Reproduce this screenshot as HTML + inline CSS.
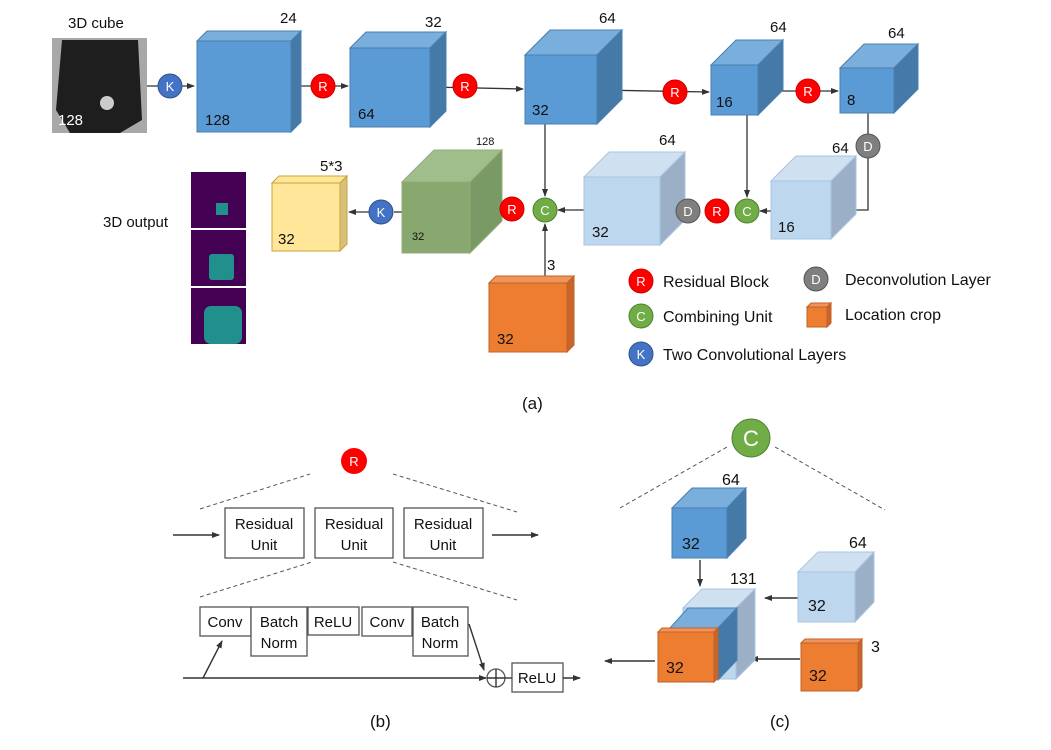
<!DOCTYPE html>
<html><head><meta charset="utf-8"><style>
html,body{margin:0;padding:0;background:#fff}
svg{display:block}
text{font-family:"Liberation Sans",sans-serif}
</style></head><body>
<svg width="1051" height="750" viewBox="0 0 1051 750" xmlns="http://www.w3.org/2000/svg">
<defs>
<marker id="a" markerWidth="8" markerHeight="8" refX="7" refY="4" orient="auto" markerUnits="userSpaceOnUse"><path d="M0,1 L8,4 L0,7 z" fill="#333"/></marker>
</defs>
<g font-size="15" fill="#111">
<!-- (a) top row -->
<text x="68" y="28">3D cube</text>
<rect x="52" y="38" width="95" height="95" fill="#a8a8a8"/>
<path d="M62,40 L138,40 L142,120 L120,133 L70,133 L56,110 Z" fill="#1e1e1e"/>
<circle cx="107" cy="103" r="7" fill="#ccc"/>
<text x="58" y="125" fill="#fff" font-size="15">128</text>

<g stroke="#333" stroke-width="1.3" fill="none">
<line x1="147" y1="86" x2="194" y2="86" marker-end="url(#a)"/>
<line x1="291" y1="86" x2="348" y2="86" marker-end="url(#a)"/>
<line x1="430" y1="87" x2="523" y2="89" marker-end="url(#a)"/>
<line x1="597" y1="90" x2="709" y2="92" marker-end="url(#a)"/>
<line x1="758" y1="91" x2="838" y2="91" marker-end="url(#a)"/>
<line x1="545" y1="124" x2="545" y2="196" marker-end="url(#a)"/>
<line x1="747" y1="115" x2="747" y2="197" marker-end="url(#a)"/>
<line x1="868" y1="113" x2="868" y2="134"/>
<polyline points="868,158 868,210 834,210" marker-end="url(#a)"/>
<line x1="771" y1="211" x2="760" y2="211" marker-end="url(#a)"/>
<line x1="676" y1="211" x2="662" y2="211" marker-end="url(#a)"/>
<line x1="584" y1="210" x2="558" y2="210" marker-end="url(#a)"/>
<line x1="545" y1="283" x2="545" y2="224" marker-end="url(#a)"/>
<line x1="500" y1="210" x2="472" y2="210" marker-end="url(#a)"/>
<line x1="402" y1="212" x2="394" y2="212"/>
<line x1="369" y1="212" x2="349" y2="212" marker-end="url(#a)"/>
</g>

<g stroke-width="1">
<polygon points="197,41 207,31 301,31 291,41" fill="#7aaedc" stroke="#4a7fb0"/>
<polygon points="291,41 301,31 301,122 291,132" fill="#4479a8" stroke="#4a7fb0"/>
<rect x="197" y="41" width="94" height="91" fill="#5b9bd5" stroke="#4a7fb0"/>
<polygon points="350,48 366,32 446,32 430,48" fill="#7aaedc" stroke="#4a7fb0"/>
<polygon points="430,48 446,32 446,111 430,127" fill="#4479a8" stroke="#4a7fb0"/>
<rect x="350" y="48" width="80" height="79" fill="#5b9bd5" stroke="#4a7fb0"/>
<polygon points="525,55 550,30 622,30 597,55" fill="#7aaedc" stroke="#4a7fb0"/>
<polygon points="597,55 622,30 622,99 597,124" fill="#4479a8" stroke="#4a7fb0"/>
<rect x="525" y="55" width="72" height="69" fill="#5b9bd5" stroke="#4a7fb0"/>
<polygon points="711,65 736,40 783,40 758,65" fill="#7aaedc" stroke="#4a7fb0"/>
<polygon points="758,65 783,40 783,90 758,115" fill="#4479a8" stroke="#4a7fb0"/>
<rect x="711" y="65" width="47" height="50" fill="#5b9bd5" stroke="#4a7fb0"/>
<polygon points="840,68 864,44 918,44 894,68" fill="#7aaedc" stroke="#4a7fb0"/>
<polygon points="894,68 918,44 918,89 894,113" fill="#4479a8" stroke="#4a7fb0"/>
<rect x="840" y="68" width="54" height="45" fill="#5b9bd5" stroke="#4a7fb0"/>
<polygon points="771,181 796,156 856,156 831,181" fill="#cfe0f1" stroke="#a9c4e0"/>
<polygon points="831,181 856,156 856,214 831,239" fill="#9bb0c6" stroke="#a9c4e0"/>
<rect x="771" y="181" width="60" height="58" fill="#bdd7ee" stroke="#a9c4e0"/>
<polygon points="584,177 609,152 685,152 660,177" fill="#cfe0f1" stroke="#a9c4e0"/>
<polygon points="660,177 685,152 685,220 660,245" fill="#9bb0c6" stroke="#a9c4e0"/>
<rect x="584" y="177" width="76" height="68" fill="#bdd7ee" stroke="#a9c4e0"/>
<polygon points="402,182 434,150 502,150 470,182" fill="#a0bd8c" stroke="#8fae78"/>
<polygon points="470,182 502,150 502,221 470,253" fill="#7a9a65" stroke="#8fae78"/>
<rect x="402" y="182" width="68" height="71" fill="#88a86f" stroke="#8fae78"/>
<polygon points="272,183 279,176 347,176 340,183" fill="#ffe699" stroke="#c9a43a"/>
<polygon points="340,183 347,176 347,244 340,251" fill="#d9c07a" stroke="#c9a43a"/>
<rect x="272" y="183" width="68" height="68" fill="#ffe699" stroke="#c9a43a"/>
<polygon points="489,283 496,276 574,276 567,283" fill="#f0955a" stroke="#c0622a"/>
<polygon points="567,283 574,276 574,345 567,352" fill="#c8652a" stroke="#c0622a"/>
<rect x="489" y="283" width="78" height="69" fill="#ed7d31" stroke="#c0622a"/>
</g>
<text x="280" y="23">24</text>
<text x="205" y="125">128</text>
<text x="425" y="27">32</text>
<text x="358" y="119">64</text>
<text x="599" y="23">64</text>
<text x="532" y="115">32</text>
<text x="770" y="32">64</text>
<text x="716" y="107">16</text>
<text x="888" y="38">64</text>
<text x="847" y="105">8</text>
<text x="832" y="153">64</text>
<text x="778" y="232">16</text>
<text x="659" y="145">64</text>
<text x="592" y="237">32</text>
<text x="476" y="145" font-size="11">128</text>
<text x="412" y="240" font-size="11">32</text>
<text x="320" y="171">5*3</text>
<text x="278" y="244">32</text>
<text x="547" y="270">3</text>
<text x="497" y="344">32</text>

<text x="103" y="227">3D output</text>
<rect x="191" y="172" width="55" height="56" fill="#440154"/>
<rect x="216" y="203" width="12" height="12" fill="#21908d"/>
<rect x="191" y="230" width="55" height="56" fill="#440154"/>
<rect x="209" y="254" width="25" height="26" rx="3" fill="#21908d"/>
<rect x="191" y="288" width="55" height="56" fill="#440154"/>
<rect x="204" y="306" width="38" height="38" rx="7" fill="#21908d"/>

<g font-size="13" text-anchor="middle" fill="#fff">
<circle cx="170" cy="86" r="12" fill="#4472c4" stroke="#2f528f"/><text x="170" y="91">K</text>
<circle cx="323" cy="86" r="12" fill="#ff0000" stroke="#c00"/><text x="323" y="91">R</text>
<circle cx="465" cy="86" r="12" fill="#ff0000" stroke="#c00"/><text x="465" y="91">R</text>
<circle cx="675" cy="92" r="12" fill="#ff0000" stroke="#c00"/><text x="675" y="97">R</text>
<circle cx="808" cy="91" r="12" fill="#ff0000" stroke="#c00"/><text x="808" y="96">R</text>
<circle cx="868" cy="146" r="12" fill="#7f7f7f" stroke="#555"/><text x="868" y="151">D</text>
<circle cx="747" cy="211" r="12" fill="#70ad47" stroke="#507e32"/><text x="747" y="216">C</text>
<circle cx="717" cy="211" r="12" fill="#ff0000" stroke="#c00"/><text x="717" y="216">R</text>
<circle cx="688" cy="211" r="12" fill="#7f7f7f" stroke="#555"/><text x="688" y="216">D</text>
<circle cx="545" cy="210" r="12" fill="#70ad47" stroke="#507e32"/><text x="545" y="215">C</text>
<circle cx="512" cy="209" r="12" fill="#ff0000" stroke="#c00"/><text x="512" y="214">R</text>
<circle cx="381" cy="212" r="12" fill="#4472c4" stroke="#2f528f"/><text x="381" y="217">K</text>
<circle cx="641" cy="281" r="12" fill="#ff0000" stroke="#c00"/><text x="641" y="286">R</text>
<circle cx="816" cy="279" r="12" fill="#7f7f7f" stroke="#555"/><text x="816" y="284">D</text>
<circle cx="641" cy="316" r="12" fill="#70ad47" stroke="#507e32"/><text x="641" y="321">C</text>
<circle cx="641" cy="354" r="12" fill="#4472c4" stroke="#2f528f"/><text x="641" y="359">K</text>
<circle cx="354" cy="461" r="13" fill="#ff0000"/><text x="354" y="466">R</text>
<circle cx="751" cy="438" r="19" fill="#70ad47" stroke="#507e32"/><text x="751" y="446" font-size="22">C</text>
</g>
<polygon points="807,307 811,303 831,303 827,307" fill="#f0955a" stroke="#c0622a"/>
<polygon points="827,307 831,303 831,323 827,327" fill="#c8652a" stroke="#c0622a"/>
<rect x="807" y="307" width="20" height="20" fill="#ed7d31" stroke="#c0622a"/>
<text x="663" y="287" font-size="16">Residual Block</text>
<text x="845" y="285" font-size="16">Deconvolution Layer</text>
<text x="663" y="322" font-size="16">Combining Unit</text>
<text x="845" y="320" font-size="16">Location crop</text>
<text x="663" y="360" font-size="16">Two Convolutional Layers</text>
<text x="522" y="409" font-family="Liberation Serif" font-size="17">(a)</text>

<g stroke="#555" stroke-dasharray="4,3" stroke-width="1">
<line x1="200" y1="509" x2="310" y2="474"/>
<line x1="393" y1="474" x2="517" y2="512"/>
<line x1="200" y1="597" x2="312" y2="562"/>
<line x1="393" y1="562" x2="517" y2="600"/>
<line x1="620" y1="508" x2="727" y2="447"/>
<line x1="775" y1="447" x2="885" y2="510"/>
</g>
<g fill="#fff" stroke="#555" stroke-width="1.3">
<rect x="225" y="508" width="79" height="50"/>
<rect x="315" y="508" width="78" height="50"/>
<rect x="404" y="508" width="79" height="50"/>
<rect x="200" y="607" width="51" height="29"/>
<rect x="251" y="607" width="56" height="49"/>
<rect x="308" y="607" width="51" height="28"/>
<rect x="362" y="607" width="50" height="29"/>
<rect x="413" y="607" width="55" height="49"/>
<rect x="512" y="663" width="51" height="29"/>
<circle cx="496" cy="678" r="9"/>
</g>
<g stroke="#333" stroke-width="1.4" fill="none">
<line x1="173" y1="535" x2="219" y2="535" marker-end="url(#a)"/>
<line x1="492" y1="535" x2="538" y2="535" marker-end="url(#a)"/>
<line x1="183" y1="678" x2="486" y2="678" marker-end="url(#a)"/>
<line x1="203" y1="678" x2="222" y2="641" marker-end="url(#a)"/>
<line x1="469" y1="624" x2="484" y2="670" marker-end="url(#a)"/>
<line x1="505" y1="678" x2="512" y2="678"/>
<line x1="563" y1="678" x2="580" y2="678" marker-end="url(#a)"/>
<line x1="487" y1="678" x2="505" y2="678"/><line x1="496" y1="669" x2="496" y2="687"/>
<line x1="700" y1="560" x2="700" y2="586" marker-end="url(#a)"/>
<line x1="655" y1="661" x2="605" y2="661" marker-end="url(#a)"/>
<line x1="798" y1="598" x2="765" y2="598" marker-end="url(#a)"/>
<line x1="800" y1="659" x2="751" y2="659" marker-end="url(#a)"/>
</g>
<g text-anchor="middle" font-size="15">
<text x="264" y="529">Residual</text><text x="264" y="550">Unit</text>
<text x="354" y="529">Residual</text><text x="354" y="550">Unit</text>
<text x="443" y="529">Residual</text><text x="443" y="550">Unit</text>
<text x="225" y="627">Conv</text>
<text x="279" y="627">Batch</text><text x="279" y="648">Norm</text>
<text x="333" y="627">ReLU</text>
<text x="387" y="627">Conv</text>
<text x="440" y="627">Batch</text><text x="440" y="648">Norm</text>
<text x="537" y="683">ReLU</text>
</g>
<text x="370" y="727" font-family="Liberation Serif" font-size="17">(b)</text>

<g stroke-width="1">
<polygon points="672,508 692,488 746,488 727,508" fill="#7aaedc" stroke="#4a7fb0"/>
<polygon points="727,508 746,488 746,538 727,558" fill="#4479a8" stroke="#4a7fb0"/>
<rect x="672" y="508" width="55" height="50" fill="#5b9bd5" stroke="#4a7fb0"/>
<polygon points="683,608 702,589 755,589 736,608" fill="#cfe0f1" stroke="#a9c4e0"/>
<polygon points="736,608 755,589 755,660 736,679" fill="#9bb0c6" stroke="#a9c4e0"/>
<rect x="683" y="608" width="53" height="71" fill="#bdd7ee" stroke="#a9c4e0"/>
<polygon points="670,628 688,608 737,608 718,628" fill="#7aaedc" stroke="#4a7fb0"/>
<polygon points="718,628 737,608 737,660 718,680" fill="#4479a8" stroke="#4a7fb0"/>
<polygon points="658,632 662,628 718,628 714,632" fill="#f0955a" stroke="#c0622a"/>
<polygon points="714,632 718,628 718,678 714,682" fill="#c8652a" stroke="#c0622a"/>
<rect x="658" y="632" width="56" height="50" fill="#ed7d31" stroke="#c0622a"/>
<polygon points="798,572 818,552 874,552 855,572" fill="#cfe0f1" stroke="#a9c4e0"/>
<polygon points="855,572 874,552 874,602 855,622" fill="#9bb0c6" stroke="#a9c4e0"/>
<rect x="798" y="572" width="57" height="50" fill="#bdd7ee" stroke="#a9c4e0"/>
<polygon points="801,643 805,639 862,639 858,643" fill="#f0955a" stroke="#c0622a"/>
<polygon points="858,643 862,639 862,687 858,691" fill="#c8652a" stroke="#c0622a"/>
<rect x="801" y="643" width="57" height="48" fill="#ed7d31" stroke="#c0622a"/>
</g>
<g font-size="16">
<text x="722" y="485">64</text>
<text x="682" y="549">32</text>
<text x="730" y="584">131</text>
<text x="666" y="673">32</text>
<text x="849" y="548">64</text>
<text x="808" y="611">32</text>
<text x="871" y="652">3</text>
<text x="809" y="681">32</text>
</g>
<text x="770" y="727" font-family="Liberation Serif" font-size="17">(c)</text>
</g>
</svg>
</body></html>
